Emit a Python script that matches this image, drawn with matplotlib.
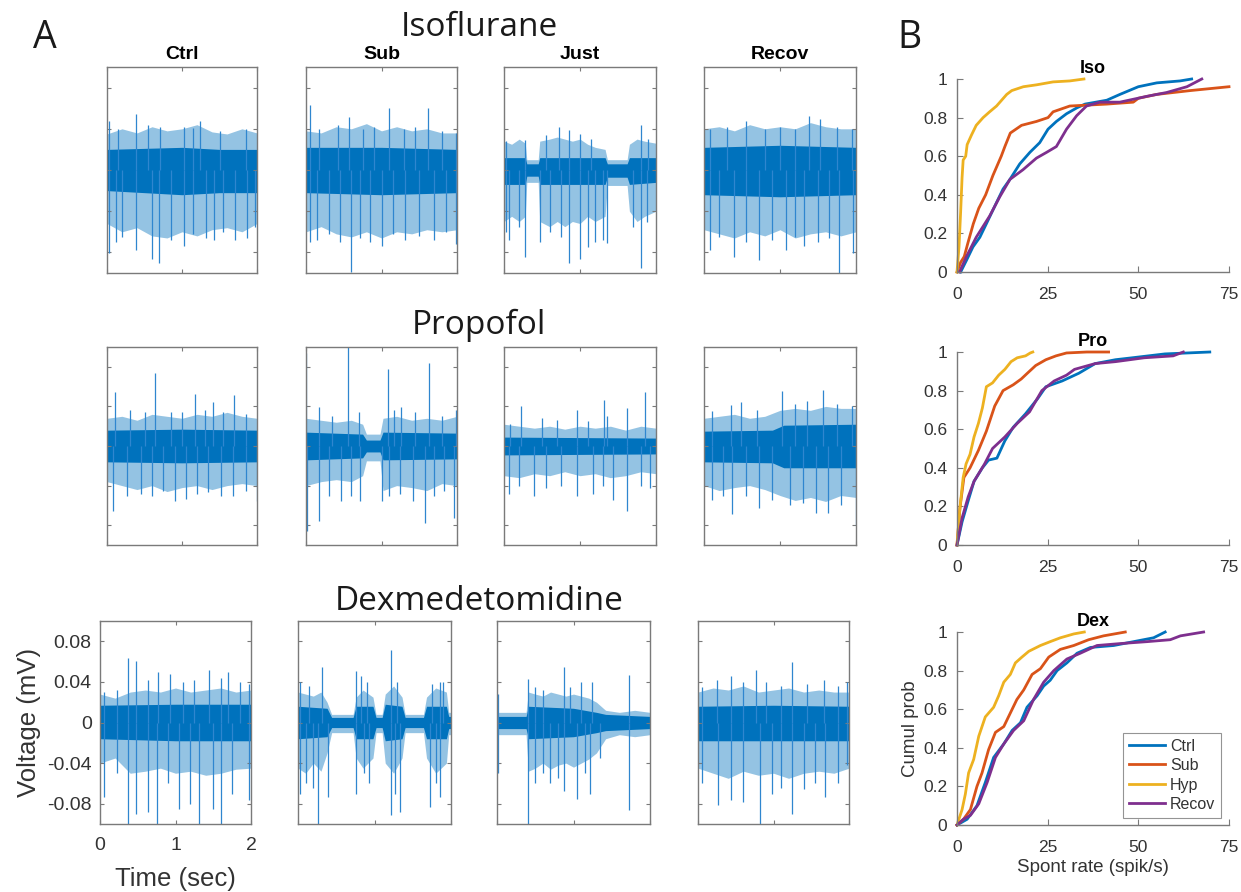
import matplotlib
matplotlib.use("Agg")
import matplotlib.pyplot as plt
import numpy as np

# ---------------- data: panel A voltage traces (mV) ----------------
T11 = [0, 0.2, 0.4, 0.6, 0.8, 1.0, 1.2, 1.4, 1.6, 1.8, 2.0]

# core rows: (time s, core_hi, core_lo); fringe: times / upper / lower outline
iso_ctrl_core = [(0, 0.020, -0.020), (0.5, 0.021, -0.022), (1.0, 0.022, -0.024), (1.5, 0.020, -0.022),
                 (2.0, 0.020, -0.022)]
iso_ctrl_fr_t = T11
iso_ctrl_fr_hi = [0.035, 0.040, 0.036, 0.042, 0.038, 0.040, 0.044, 0.037, 0.035, 0.040, 0.036]
iso_ctrl_fr_lo = [-0.052, -0.060, -0.056, -0.064, -0.066, -0.060, -0.064, -0.058, -0.056, -0.060, -0.052]
iso_ctrl_up = [(0.02, 0.048), (0.15, 0.040), (0.39, 0.054), (0.55, 0.044), (0.70, 0.042), (1.03, 0.042),
               (1.14, 0.041), (1.24, 0.048), (1.50, 0.038), (1.85, 0.040)]
iso_ctrl_dn = [(0.02, -0.081), (0.12, -0.070), (0.20, -0.065), (0.39, -0.078), (0.60, -0.086), (0.69, -0.090),
               (0.85, -0.068), (1.03, -0.074), (1.15, -0.062), (1.32, -0.066), (1.42, -0.068), (1.55, -0.060),
               (1.71, -0.068), (1.86, -0.066), (1.97, -0.055)]

iso_sub_core = [(0, 0.022, -0.022), (1.0, 0.022, -0.024), (2.0, 0.020, -0.022)]
iso_sub_fr_t = T11
iso_sub_fr_hi = [0.038, 0.036, 0.042, 0.040, 0.045, 0.038, 0.042, 0.038, 0.040, 0.036, 0.036]
iso_sub_fr_lo = [-0.060, -0.055, -0.062, -0.065, -0.060, -0.066, -0.060, -0.062, -0.058, -0.060, -0.058]
iso_sub_up = [(0.05, 0.063), (0.17, 0.040), (0.43, 0.044), (0.57, 0.051), (0.75, 0.040), (0.90, 0.042),
              (1.10, 0.060), (1.30, 0.040), (1.45, 0.042), (1.62, 0.060), (1.80, 0.038), (1.99, 0.036)]
iso_sub_dn = [(0.05, -0.070), (0.15, -0.068), (0.30, -0.062), (0.45, -0.070), (0.59, -0.099), (0.72, -0.066),
              (0.85, -0.070), (1.01, -0.074), (1.15, -0.062), (1.31, -0.068), (1.50, -0.064), (1.70, -0.068),
              (1.85, -0.060), (1.99, -0.072)]

iso_just_core = [(0, 0.012, -0.014), (0.28, 0.012, -0.014), (0.30, 0.006, -0.006), (0.45, 0.006, -0.006),
                 (0.47, 0.012, -0.014), (1.33, 0.012, -0.014), (1.36, 0.006, -0.007), (1.62, 0.006, -0.007),
                 (1.65, 0.012, -0.014), (2.0, 0.012, -0.012)]
iso_just_fr_t = [0, 0.1, 0.2, 0.28, 0.30, 0.45, 0.47, 0.6, 0.7, 0.8, 0.9, 1.0, 1.1, 1.2, 1.33, 1.36, 1.62, 1.65,
                 1.75, 1.85, 2.0]
iso_just_fr_hi = [0.028, 0.025, 0.030, 0.026, 0.010, 0.010, 0.028, 0.030, 0.032, 0.030, 0.028, 0.030, 0.025,
                  0.022, 0.020, 0.010, 0.010, 0.025, 0.030, 0.028, 0.026]
iso_just_fr_lo = [-0.050, -0.045, -0.050, -0.045, -0.012, -0.012, -0.050, -0.055, -0.050, -0.055, -0.050,
                  -0.052, -0.045, -0.050, -0.045, -0.015, -0.015, -0.040, -0.050, -0.045, -0.040]
iso_just_up = [(0.03, 0.028), (0.27, 0.029), (0.55, 0.034), (0.72, 0.042), (0.86, 0.039), (1.00, 0.035),
               (1.15, 0.030), (1.80, 0.044), (1.90, 0.030)]
iso_just_dn = [(0.03, -0.060), (0.07, -0.068), (0.20, -0.055), (0.28, -0.084), (0.48, -0.070), (0.60, -0.060),
               (0.75, -0.065), (0.86, -0.090), (1.00, -0.086), (1.10, -0.075), (1.20, -0.070), (1.30, -0.068),
               (1.35, -0.071), (1.70, -0.055), (1.80, -0.095), (1.88, -0.050)]

iso_recov_core = [(0, 0.022, -0.024), (1.0, 0.024, -0.026), (2.0, 0.022, -0.024)]
iso_recov_fr_t = T11
iso_recov_fr_hi = [0.040, 0.042, 0.038, 0.044, 0.040, 0.042, 0.040, 0.046, 0.042, 0.040, 0.040]
iso_recov_fr_lo = [-0.058, -0.062, -0.066, -0.060, -0.064, -0.058, -0.066, -0.062, -0.060, -0.064, -0.060]
iso_recov_up = [(0.08, 0.040), (0.30, 0.042), (0.55, 0.048), (0.80, 0.040), (1.00, 0.042), (1.20, 0.040),
                (1.38, 0.052), (1.53, 0.050), (1.75, 0.042), (1.95, 0.040)]
iso_recov_dn = [(0.08, -0.078), (0.20, -0.065), (0.39, -0.084), (0.55, -0.070), (0.73, -0.087), (0.90, -0.068),
                (1.08, -0.078), (1.20, -0.065), (1.32, -0.074), (1.50, -0.070), (1.65, -0.066), (1.77, -0.100),
                (1.96, -0.081)]

pro_ctrl_core = [(0, 0.016, -0.016), (1.0, 0.017, -0.017), (2.0, 0.016, -0.016)]
pro_ctrl_fr_t = T11
pro_ctrl_fr_hi = [0.028, 0.030, 0.026, 0.032, 0.030, 0.028, 0.032, 0.030, 0.034, 0.030, 0.028]
pro_ctrl_fr_lo = [-0.036, -0.040, -0.044, -0.040, -0.046, -0.042, -0.040, -0.044, -0.040, -0.038, -0.040]
pro_ctrl_up = [(0.11, 0.055), (0.31, 0.036), (0.50, 0.034), (0.64, 0.074), (0.85, 0.034), (1.00, 0.034),
               (1.17, 0.053), (1.30, 0.036), (1.41, 0.044), (1.55, 0.034), (1.69, 0.052), (1.85, 0.032)]
pro_ctrl_dn = [(0.08, -0.066), (0.26, -0.050), (0.45, -0.048), (0.60, -0.050), (0.75, -0.045), (0.90, -0.056),
               (1.05, -0.054), (1.20, -0.048), (1.35, -0.046), (1.52, -0.050), (1.68, -0.050), (1.85, -0.045),
               (2.00, -0.056)]

pro_sub_core = [(0, 0.014, -0.014), (0.75, 0.012, -0.012), (0.80, 0.006, -0.006), (0.98, 0.006, -0.006),
                (1.02, 0.014, -0.014), (2.0, 0.013, -0.013)]
pro_sub_fr_t = [0, 0.2, 0.4, 0.6, 0.75, 0.8, 0.98, 1.02, 1.2, 1.4, 1.6, 1.8, 2.0]
pro_sub_fr_hi = [0.028, 0.026, 0.024, 0.026, 0.022, 0.012, 0.012, 0.028, 0.030, 0.026, 0.028, 0.026, 0.030]
pro_sub_fr_lo = [-0.040, -0.036, -0.034, -0.036, -0.030, -0.015, -0.015, -0.045, -0.040, -0.042, -0.045, -0.038,
                 -0.040]
pro_sub_up = [(0.005, 0.094), (0.17, 0.039), (0.35, 0.030), (0.55, 0.100), (0.70, 0.034), (1.09, 0.078),
              (1.17, 0.036), (1.26, 0.039), (1.45, 0.034), (1.63, 0.084), (1.80, 0.030), (1.99, 0.036)]
pro_sub_dn = [(0.01, -0.086), (0.17, -0.076), (0.30, -0.050), (0.46, -0.056), (0.60, -0.050), (0.72, -0.056),
              (1.00, -0.056), (1.10, -0.050), (1.25, -0.048), (1.42, -0.056), (1.57, -0.078), (1.70, -0.050),
              (1.83, -0.045), (1.96, -0.073)]

pro_just_core = [(0, 0.009, -0.009), (2.0, 0.008, -0.008)]
pro_just_fr_t = T11
pro_just_fr_hi = [0.022, 0.020, 0.018, 0.020, 0.017, 0.020, 0.018, 0.020, 0.016, 0.020, 0.018]
pro_just_fr_lo = [-0.030, -0.032, -0.028, -0.030, -0.026, -0.030, -0.028, -0.032, -0.030, -0.026, -0.028]
pro_just_up = [(0.08, 0.022), (0.23, 0.040), (0.50, 0.028), (0.70, 0.026), (0.96, 0.036), (1.10, 0.025),
               (1.31, 0.046), (1.35, 0.030), (1.62, 0.038), (1.86, 0.055)]
pro_just_dn = [(0.07, -0.048), (0.20, -0.040), (0.39, -0.050), (0.55, -0.042), (0.75, -0.040), (0.96, -0.050),
               (1.17, -0.048), (1.30, -0.040), (1.43, -0.055), (1.62, -0.066), (1.80, -0.040), (1.92, -0.042)]

pro_recov_core = [(0, 0.015, -0.016), (0.9, 0.016, -0.017), (1.05, 0.021, -0.022), (2.0, 0.022, -0.022)]
pro_recov_fr_t = T11
pro_recov_fr_hi = [0.028, 0.030, 0.032, 0.028, 0.030, 0.036, 0.038, 0.036, 0.040, 0.038, 0.038]
pro_recov_fr_lo = [-0.040, -0.045, -0.042, -0.040, -0.044, -0.050, -0.055, -0.052, -0.056, -0.050, -0.052]
pro_recov_up = [(0.10, 0.035), (0.36, 0.041), (0.49, 0.044), (0.70, 0.036), (1.02, 0.056), (1.20, 0.042),
                (1.35, 0.045), (1.57, 0.057), (1.75, 0.042), (1.95, 0.040)]
pro_recov_dn = [(0.10, -0.055), (0.25, -0.050), (0.37, -0.069), (0.55, -0.050), (0.72, -0.063), (0.90, -0.055),
                (1.13, -0.060), (1.30, -0.058), (1.48, -0.068), (1.63, -0.068), (1.80, -0.060), (1.995, -0.080)]

dex_ctrl_core = [(0, 0.017, -0.016), (1.0, 0.018, -0.018), (2.0, 0.018, -0.018)]
dex_ctrl_fr_t = T11
dex_ctrl_fr_hi = [0.028, 0.024, 0.030, 0.032, 0.030, 0.034, 0.030, 0.032, 0.034, 0.030, 0.032]
dex_ctrl_fr_lo = [-0.040, -0.035, -0.050, -0.048, -0.045, -0.050, -0.048, -0.052, -0.050, -0.046, -0.045]
dex_ctrl_up = [(0.05, 0.030), (0.22, 0.032), (0.37, 0.064), (0.48, 0.061), (0.63, 0.042), (0.77, 0.050),
               (0.93, 0.048), (1.10, 0.040), (1.25, 0.042), (1.45, 0.052), (1.60, 0.044), (1.69, 0.050),
               (1.85, 0.040), (1.97, 0.038)]
dex_ctrl_dn = [(0.05, -0.073), (0.22, -0.050), (0.37, -0.100), (0.48, -0.090), (0.64, -0.088), (0.76, -0.100),
               (0.90, -0.060), (1.04, -0.085), (1.19, -0.080), (1.31, -0.100), (1.50, -0.085), (1.60, -0.100),
               (1.75, -0.070), (1.97, -0.076)]

dex_sub_core = [(0, 0.016, -0.016), (0.38, 0.014, -0.014), (0.44, 0.005, -0.005), (0.72, 0.005, -0.005),
                (0.76, 0.016, -0.016), (0.98, 0.016, -0.016), (1.02, 0.005, -0.005), (1.10, 0.005, -0.005),
                (1.14, 0.018, -0.018), (1.36, 0.016, -0.016), (1.40, 0.005, -0.005), (1.64, 0.005, -0.005),
                (1.68, 0.016, -0.016), (1.94, 0.016, -0.016), (1.97, 0.006, -0.006), (2.0, 0.006, -0.006)]
dex_sub_fr_t = [0, 0.1, 0.2, 0.3, 0.38, 0.44, 0.72, 0.76, 0.85, 0.98, 1.02, 1.10, 1.14, 1.25, 1.36, 1.40, 1.64,
                1.68, 1.80, 1.94, 1.97, 2.0]
dex_sub_fr_hi = [0.030, 0.028, 0.026, 0.030, 0.020, 0.008, 0.008, 0.025, 0.032, 0.025, 0.008, 0.008, 0.028,
                 0.036, 0.025, 0.008, 0.008, 0.025, 0.034, 0.030, 0.010, 0.010]
dex_sub_fr_lo = [-0.045, -0.050, -0.040, -0.048, -0.030, -0.010, -0.010, -0.035, -0.045, -0.035, -0.010, -0.010,
                 -0.040, -0.050, -0.035, -0.010, -0.010, -0.035, -0.050, -0.040, -0.012, -0.012]
dex_sub_up = [(0.03, 0.040), (0.15, 0.036), (0.31, 0.055), (0.76, 0.051), (0.82, 0.046), (0.90, 0.040),
              (1.21, 0.071), (1.30, 0.040), (1.75, 0.038), (1.85, 0.040), (1.90, 0.040)]
dex_sub_dn = [(0.03, -0.070), (0.10, -0.060), (0.20, -0.065), (0.26, -0.100), (0.39, -0.073), (0.76, -0.070),
              (0.86, -0.050), (0.93, -0.060), (1.21, -0.091), (1.27, -0.070), (1.33, -0.088), (1.73, -0.083),
              (1.80, -0.060), (1.85, -0.073)]

dex_just_core = [(0, 0.006, -0.006), (0.38, 0.006, -0.006), (0.41, 0.016, -0.016), (1.0, 0.014, -0.014),
                 (1.3, 0.010, -0.010), (1.42, 0.008, -0.008), (2.0, 0.006, -0.006)]
dex_just_fr_t = [0, 0.38, 0.41, 0.5, 0.6, 0.7, 0.8, 0.9, 1.0, 1.1, 1.2, 1.3, 1.42, 1.6, 1.8, 2.0]
dex_just_fr_hi = [0.010, 0.010, 0.030, 0.028, 0.026, 0.030, 0.028, 0.026, 0.028, 0.026, 0.024, 0.020, 0.012,
                  0.010, 0.012, 0.010]
dex_just_fr_lo = [-0.012, -0.012, -0.048, -0.045, -0.040, -0.046, -0.042, -0.040, -0.044, -0.040, -0.036,
                  -0.030, -0.016, -0.012, -0.014, -0.012]
dex_just_up = [(0.01, 0.028), (0.40, 0.043), (0.50, 0.035), (0.60, 0.032), (0.87, 0.055), (0.95, 0.035),
               (1.10, 0.040), (1.24, 0.040), (1.73, 0.047)]
dex_just_dn = [(0.01, -0.050), (0.41, -0.100), (0.50, -0.060), (0.60, -0.050), (0.69, -0.060), (0.80, -0.055),
               (0.87, -0.067), (1.05, -0.075), (1.15, -0.050), (1.22, -0.070), (1.35, -0.035), (1.73, -0.086)]

dex_recov_core = [(0, 0.016, -0.018), (1.0, 0.017, -0.018), (2.0, 0.016, -0.018)]
dex_recov_fr_t = T11
dex_recov_fr_hi = [0.030, 0.034, 0.032, 0.036, 0.030, 0.032, 0.034, 0.030, 0.032, 0.030, 0.030]
dex_recov_fr_lo = [-0.045, -0.050, -0.055, -0.048, -0.052, -0.050, -0.055, -0.050, -0.048, -0.050, -0.045]
dex_recov_up = [(0.05, 0.035), (0.25, 0.042), (0.44, 0.046), (0.60, 0.040), (0.77, 0.052), (0.90, 0.040),
                (1.10, 0.036), (1.25, 0.060), (1.45, 0.038), (1.67, 0.042), (1.85, 0.036), (1.98, 0.040)]
dex_recov_dn = [(0.05, -0.060), (0.26, -0.081), (0.44, -0.076), (0.60, -0.078), (0.82, -0.100), (0.98, -0.070),
                (1.10, -0.065), (1.24, -0.090), (1.40, -0.066), (1.55, -0.060), (1.68, -0.073), (1.85, -0.060),
                (1.98, -0.042)]

col_titles = ["Ctrl", "Sub", "Just", "Recov"]
row_titles = ["Isoflurane", "Propofol", "Dexmedetomidine"]

# ---------------- data: panel B cumulative distributions ----------------
legend_labels = ["Ctrl", "Sub", "Hyp", "Recov"]
iso_ctrl_cdf = [(1.0, 0), (2.6, 0.06), (4.4, 0.13), (6.3, 0.18), (8.1, 0.25), (10.9, 0.36), (12.7, 0.43),
                (14.6, 0.48), (17.3, 0.56), (20.1, 0.62), (22.8, 0.67), (25.1, 0.74), (27.4, 0.78), (30.2, 0.82),
                (33.0, 0.85), (35.3, 0.87), (41.3, 0.89), (44.9, 0.92), (50.0, 0.96), (55.1, 0.98), (61.5, 0.99),
                (64.7, 1.0)]
iso_sub_cdf = [(0, 0), (1.0, 0.05), (2.0, 0.08), (3.0, 0.15), (4.5, 0.25), (6.0, 0.33), (7.9, 0.40), (9.9, 0.50),
               (12.2, 0.60), (13.2, 0.65), (14.7, 0.72), (17.8, 0.76), (21.9, 0.78), (25.1, 0.80), (26.5, 0.83),
               (31.1, 0.86), (41.3, 0.87), (48.6, 0.88), (50.0, 0.90), (55.0, 0.92), (64.3, 0.94), (75.0, 0.96)]
iso_hyp_cdf = [(0, 0), (0.55, 0.13), (1.0, 0.31), (1.4, 0.49), (1.7, 0.58), (2.4, 0.60), (2.8, 0.66), (4.0, 0.71),
               (5.3, 0.76), (7.2, 0.80), (9.0, 0.83), (10.9, 0.86), (12.3, 0.89), (13.7, 0.92), (15.1, 0.94),
               (18.3, 0.96), (22.0, 0.97), (26.5, 0.985), (31.1, 0.99), (35.0, 1.0)]
iso_recov_cdf = [(0.7, 0), (2.6, 0.08), (5.3, 0.18), (9.0, 0.29), (11.8, 0.39), (14.6, 0.48), (18.2, 0.53),
                 (21.9, 0.59), (24.7, 0.62), (27.4, 0.65), (30.2, 0.74), (33.0, 0.81), (35.7, 0.86), (39.4, 0.88),
                 (44.9, 0.88), (52.3, 0.91), (57.8, 0.93), (63.4, 0.96), (67.5, 1.0)]

pro_ctrl_cdf = [(0, 0), (1.4, 0.12), (3.1, 0.23), (4.7, 0.33), (7.0, 0.40), (8.7, 0.44), (11.0, 0.45), (13.2, 0.54),
                (15.5, 0.61), (18.9, 0.68), (22.3, 0.76), (24.5, 0.82), (29.0, 0.85), (33.6, 0.89), (38.1, 0.94),
                (43.7, 0.96), (48.3, 0.97), (57.3, 0.99), (69.7, 1.0)]
pro_sub_cdf = [(0, 0), (0.8, 0.19), (1.9, 0.35), (3.6, 0.40), (5.9, 0.49), (8.1, 0.59), (10.4, 0.72), (12.7, 0.80),
               (15.5, 0.83), (17.7, 0.86), (19.4, 0.89), (21.7, 0.93), (24.5, 0.96), (27.3, 0.98), (30.2, 0.995),
               (35.8, 1.0), (41.8, 1.0)]
pro_hyp_cdf = [(0, 0), (0.8, 0.19), (1.7, 0.35), (2.5, 0.42), (3.6, 0.47), (4.7, 0.56), (5.9, 0.63), (7.0, 0.71),
               (8.1, 0.82), (9.8, 0.84), (11.5, 0.88), (13.2, 0.91), (14.9, 0.95), (16.6, 0.97), (18.9, 0.98),
               (20.2, 0.995), (20.9, 1.0)]
pro_recov_cdf = [(0, 0), (1.4, 0.14), (3.1, 0.25), (4.7, 0.33), (7.6, 0.42), (9.8, 0.50), (13.2, 0.56),
                 (16.6, 0.63), (20.0, 0.69), (23.4, 0.80), (26.8, 0.85), (30.2, 0.88), (32.4, 0.91), (38.1, 0.94),
                 (43.7, 0.95), (51.6, 0.97), (59.6, 0.98), (62.4, 1.0)]

dex_ctrl_cdf = [(0, 0), (2.8, 0.03), (5.5, 0.10), (7.8, 0.22), (10.1, 0.35), (12.9, 0.42), (15.2, 0.49),
                (17.5, 0.53), (19.3, 0.61), (22.1, 0.67), (23.9, 0.72), (25.7, 0.75), (27.6, 0.80), (30.3, 0.84),
                (33.1, 0.89), (36.8, 0.92), (43.2, 0.93), (48.7, 0.95), (54.2, 0.97), (57.4, 1.0)]
dex_sub_cdf = [(0, 0), (1.8, 0.03), (3.7, 0.08), (5.5, 0.20), (6.9, 0.27), (8.7, 0.39), (10.6, 0.48), (12.9, 0.51),
               (14.7, 0.58), (16.5, 0.65), (18.4, 0.70), (20.7, 0.78), (23.0, 0.81), (25.3, 0.87), (28.5, 0.91),
               (32.2, 0.93), (36.3, 0.96), (40.4, 0.98), (46.4, 1.0)]
dex_hyp_cdf = [(0, 0), (1.4, 0.08), (2.3, 0.16), (3.2, 0.27), (4.6, 0.34), (6.0, 0.46), (7.8, 0.56), (10.1, 0.61),
               (11.5, 0.67), (12.9, 0.74), (14.7, 0.78), (16.1, 0.84), (17.9, 0.87), (19.8, 0.90), (23.0, 0.93),
               (25.7, 0.95), (28.5, 0.97), (32.2, 0.99), (35.1, 1.0)]
dex_recov_cdf = [(0, 0), (1.8, 0.03), (3.7, 0.05), (6.0, 0.11), (8.3, 0.22), (10.6, 0.35), (12.9, 0.42),
                 (15.6, 0.49), (18.4, 0.54), (21.1, 0.65), (23.9, 0.74), (26.7, 0.80), (30.3, 0.86), (34.0, 0.89),
                 (38.6, 0.93), (45.0, 0.94), (52.4, 0.95), (58.8, 0.96), (61.6, 0.98), (68.0, 1.0)]

# ---------------- styling ----------------
BLUE = "#0072BD"
SPIKE = "#2f86cf"
CDF_COLORS = ["#0072BD", "#D95319", "#EDB120", "#7E2F8E"]
AX_GRAY = "#7a7a7a"
TXT = "#333333"
SANS = ["Liberation Sans", "DejaVu Sans"]
plt.rcParams["font.family"] = SANS

W, H = 1241, 892
fig = plt.figure(figsize=(W / 100, H / 100), dpi=100)


def rect(x0, y0, x1, y1):
    return [x0 / W, 1 - y1 / H, (x1 - x0) / W, (y1 - y0) / H]


traces = [
    [(iso_ctrl_core, iso_ctrl_fr_t, iso_ctrl_fr_hi, iso_ctrl_fr_lo, iso_ctrl_up, iso_ctrl_dn),
     (iso_sub_core, iso_sub_fr_t, iso_sub_fr_hi, iso_sub_fr_lo, iso_sub_up, iso_sub_dn),
     (iso_just_core, iso_just_fr_t, iso_just_fr_hi, iso_just_fr_lo, iso_just_up, iso_just_dn),
     (iso_recov_core, iso_recov_fr_t, iso_recov_fr_hi, iso_recov_fr_lo, iso_recov_up, iso_recov_dn)],
    [(pro_ctrl_core, pro_ctrl_fr_t, pro_ctrl_fr_hi, pro_ctrl_fr_lo, pro_ctrl_up, pro_ctrl_dn),
     (pro_sub_core, pro_sub_fr_t, pro_sub_fr_hi, pro_sub_fr_lo, pro_sub_up, pro_sub_dn),
     (pro_just_core, pro_just_fr_t, pro_just_fr_hi, pro_just_fr_lo, pro_just_up, pro_just_dn),
     (pro_recov_core, pro_recov_fr_t, pro_recov_fr_hi, pro_recov_fr_lo, pro_recov_up, pro_recov_dn)],
    [(dex_ctrl_core, dex_ctrl_fr_t, dex_ctrl_fr_hi, dex_ctrl_fr_lo, dex_ctrl_up, dex_ctrl_dn),
     (dex_sub_core, dex_sub_fr_t, dex_sub_fr_hi, dex_sub_fr_lo, dex_sub_up, dex_sub_dn),
     (dex_just_core, dex_just_fr_t, dex_just_fr_hi, dex_just_fr_lo, dex_just_up, dex_just_dn),
     (dex_recov_core, dex_recov_fr_t, dex_recov_fr_hi, dex_recov_fr_lo, dex_recov_up, dex_recov_dn)],
]

row_y = [(67, 273), (347, 545), (621, 824)]
row_x = [
    [(107, 257), (306, 457), (504, 656), (704, 856)],
    [(107, 257), (306, 457), (504, 656), (704, 856)],
    [(100, 251), (298, 451), (497, 650), (698, 849)],
]
row_title_y = [27, 325, 602]

for r in range(3):
    for c in range(4):
        x0, x1 = row_x[r][c]
        y0, y1 = row_y[r]
        ax = fig.add_axes(rect(x0, y0, x1, y1))
        core, fr_t, fr_hi, fr_lo, up, dn = traces[r][c]
        e = np.array(core)
        ax.fill_between(fr_t, fr_lo, fr_hi, color=BLUE, alpha=0.42, lw=0)
        ax.fill_between(e[:, 0], e[:, 2], e[:, 1], color=BLUE, lw=0)
        ax.vlines([s[0] for s in up], 0, [s[1] for s in up], color=SPIKE, lw=0.9)
        ax.vlines([s[0] for s in dn], 0, [s[1] for s in dn], color=SPIKE, lw=0.9)
        ax.set_xlim(0, 2)
        ax.set_ylim(-0.1, 0.1)
        ax.set_xticks([0, 1, 2])
        ax.set_yticks([-0.08, -0.04, 0, 0.04, 0.08])
        ax.tick_params(direction="in", length=3, width=0.8, top=True, right=True, color=AX_GRAY,
                       labelsize=14, labelcolor=TXT, pad=6)
        ax.tick_params(axis="x", pad=9)
        for sp in ax.spines.values():
            sp.set_color(AX_GRAY)
            sp.set_linewidth(1.0)
        if r == 2 and c == 0:
            ax.set_yticklabels(["-0.08", "-0.04", "0", "0.04", "0.08"])
            ax.set_xticklabels(["0", "1", "2"])
            ax.set_ylabel("Voltage (mV)", fontsize=18.5, color=TXT, labelpad=4)
            ax.set_xlabel("Time (sec)", fontsize=18.5, color=TXT, labelpad=10)
        else:
            ax.set_xticklabels([])
            ax.set_yticklabels([])
        if r == 0:
            ax.set_title(col_titles[c], fontsize=14, fontweight="bold", pad=6)
    fig.text(479 / W, 1 - row_title_y[r] / H, row_titles[r], fontsize=24, family=["Open Sans", "DejaVu Sans"],
             ha="center", va="center", color="#1a1a1a")

fig.text(45 / W, 1 - 38 / H, "A", fontsize=27, family=["Open Sans", "DejaVu Sans"], ha="center", va="center",
         color="#1a1a1a")
fig.text(909 / W, 1 - 38 / H, "B", fontsize=27, family=["Open Sans", "DejaVu Sans"], ha="center", va="center",
         color="#1a1a1a")

# ---------------- panel B ----------------
cdf_sets = [
    ("Iso", [iso_ctrl_cdf, iso_sub_cdf, iso_hyp_cdf, iso_recov_cdf]),
    ("Pro", [pro_ctrl_cdf, pro_sub_cdf, pro_hyp_cdf, pro_recov_cdf]),
    ("Dex", [dex_ctrl_cdf, dex_sub_cdf, dex_hyp_cdf, dex_recov_cdf]),
]
b_y = [(79, 272), (352, 545), (632, 825)]
for i, (name, curves) in enumerate(cdf_sets):
    y0, y1 = b_y[i]
    ax = fig.add_axes(rect(957, y0, 1229, y1))
    lines = []
    for k, cur in enumerate(curves):
        a = np.array(cur)
        ln, = ax.plot(a[:, 0], a[:, 1], color=CDF_COLORS[k], lw=2.0, clip_on=False, label=legend_labels[k])
        lines.append(ln)
    ax.set_xlim(0, 75)
    ax.set_ylim(0, 1)
    ax.set_xticks([0, 25, 50, 75])
    ax.set_yticks([0, 0.2, 0.4, 0.6, 0.8, 1])
    ax.set_yticklabels(["0", "0.2", "0.4", "0.6", "0.8", "1"])
    ax.spines["top"].set_visible(False)
    ax.spines["right"].set_visible(False)
    for s in ("left", "bottom"):
        ax.spines[s].set_color(AX_GRAY)
        ax.spines[s].set_linewidth(1.0)
    ax.tick_params(direction="in", length=4, width=0.8, color=AX_GRAY, labelsize=12.5, labelcolor=TXT, pad=7)
    ax.tick_params(axis="x", pad=11)
    ax.set_title(name, fontsize=13, fontweight="bold", pad=4)
    if name == "Dex":
        ax.set_xlabel("Spont rate (spik/s)", fontsize=13.5, color=TXT, labelpad=3)
        ax.set_ylabel("Cumul prob", fontsize=13.5, color=TXT, labelpad=3)
        leg = ax.legend(handles=lines, loc="upper left", bbox_to_anchor=(1123 / W, 1 - 733 / H),
                        bbox_transform=fig.transFigure, fontsize=11.5, frameon=True, fancybox=False,
                        handlelength=2.3, handletextpad=0.3, borderpad=0.35, labelspacing=0.28,
                        borderaxespad=0)
        leg.get_frame().set_edgecolor(AX_GRAY)
        leg.get_frame().set_linewidth(0.8)
        for t in leg.get_texts():
            t.set_color(TXT)

fig.savefig("out.png", dpi=100)
